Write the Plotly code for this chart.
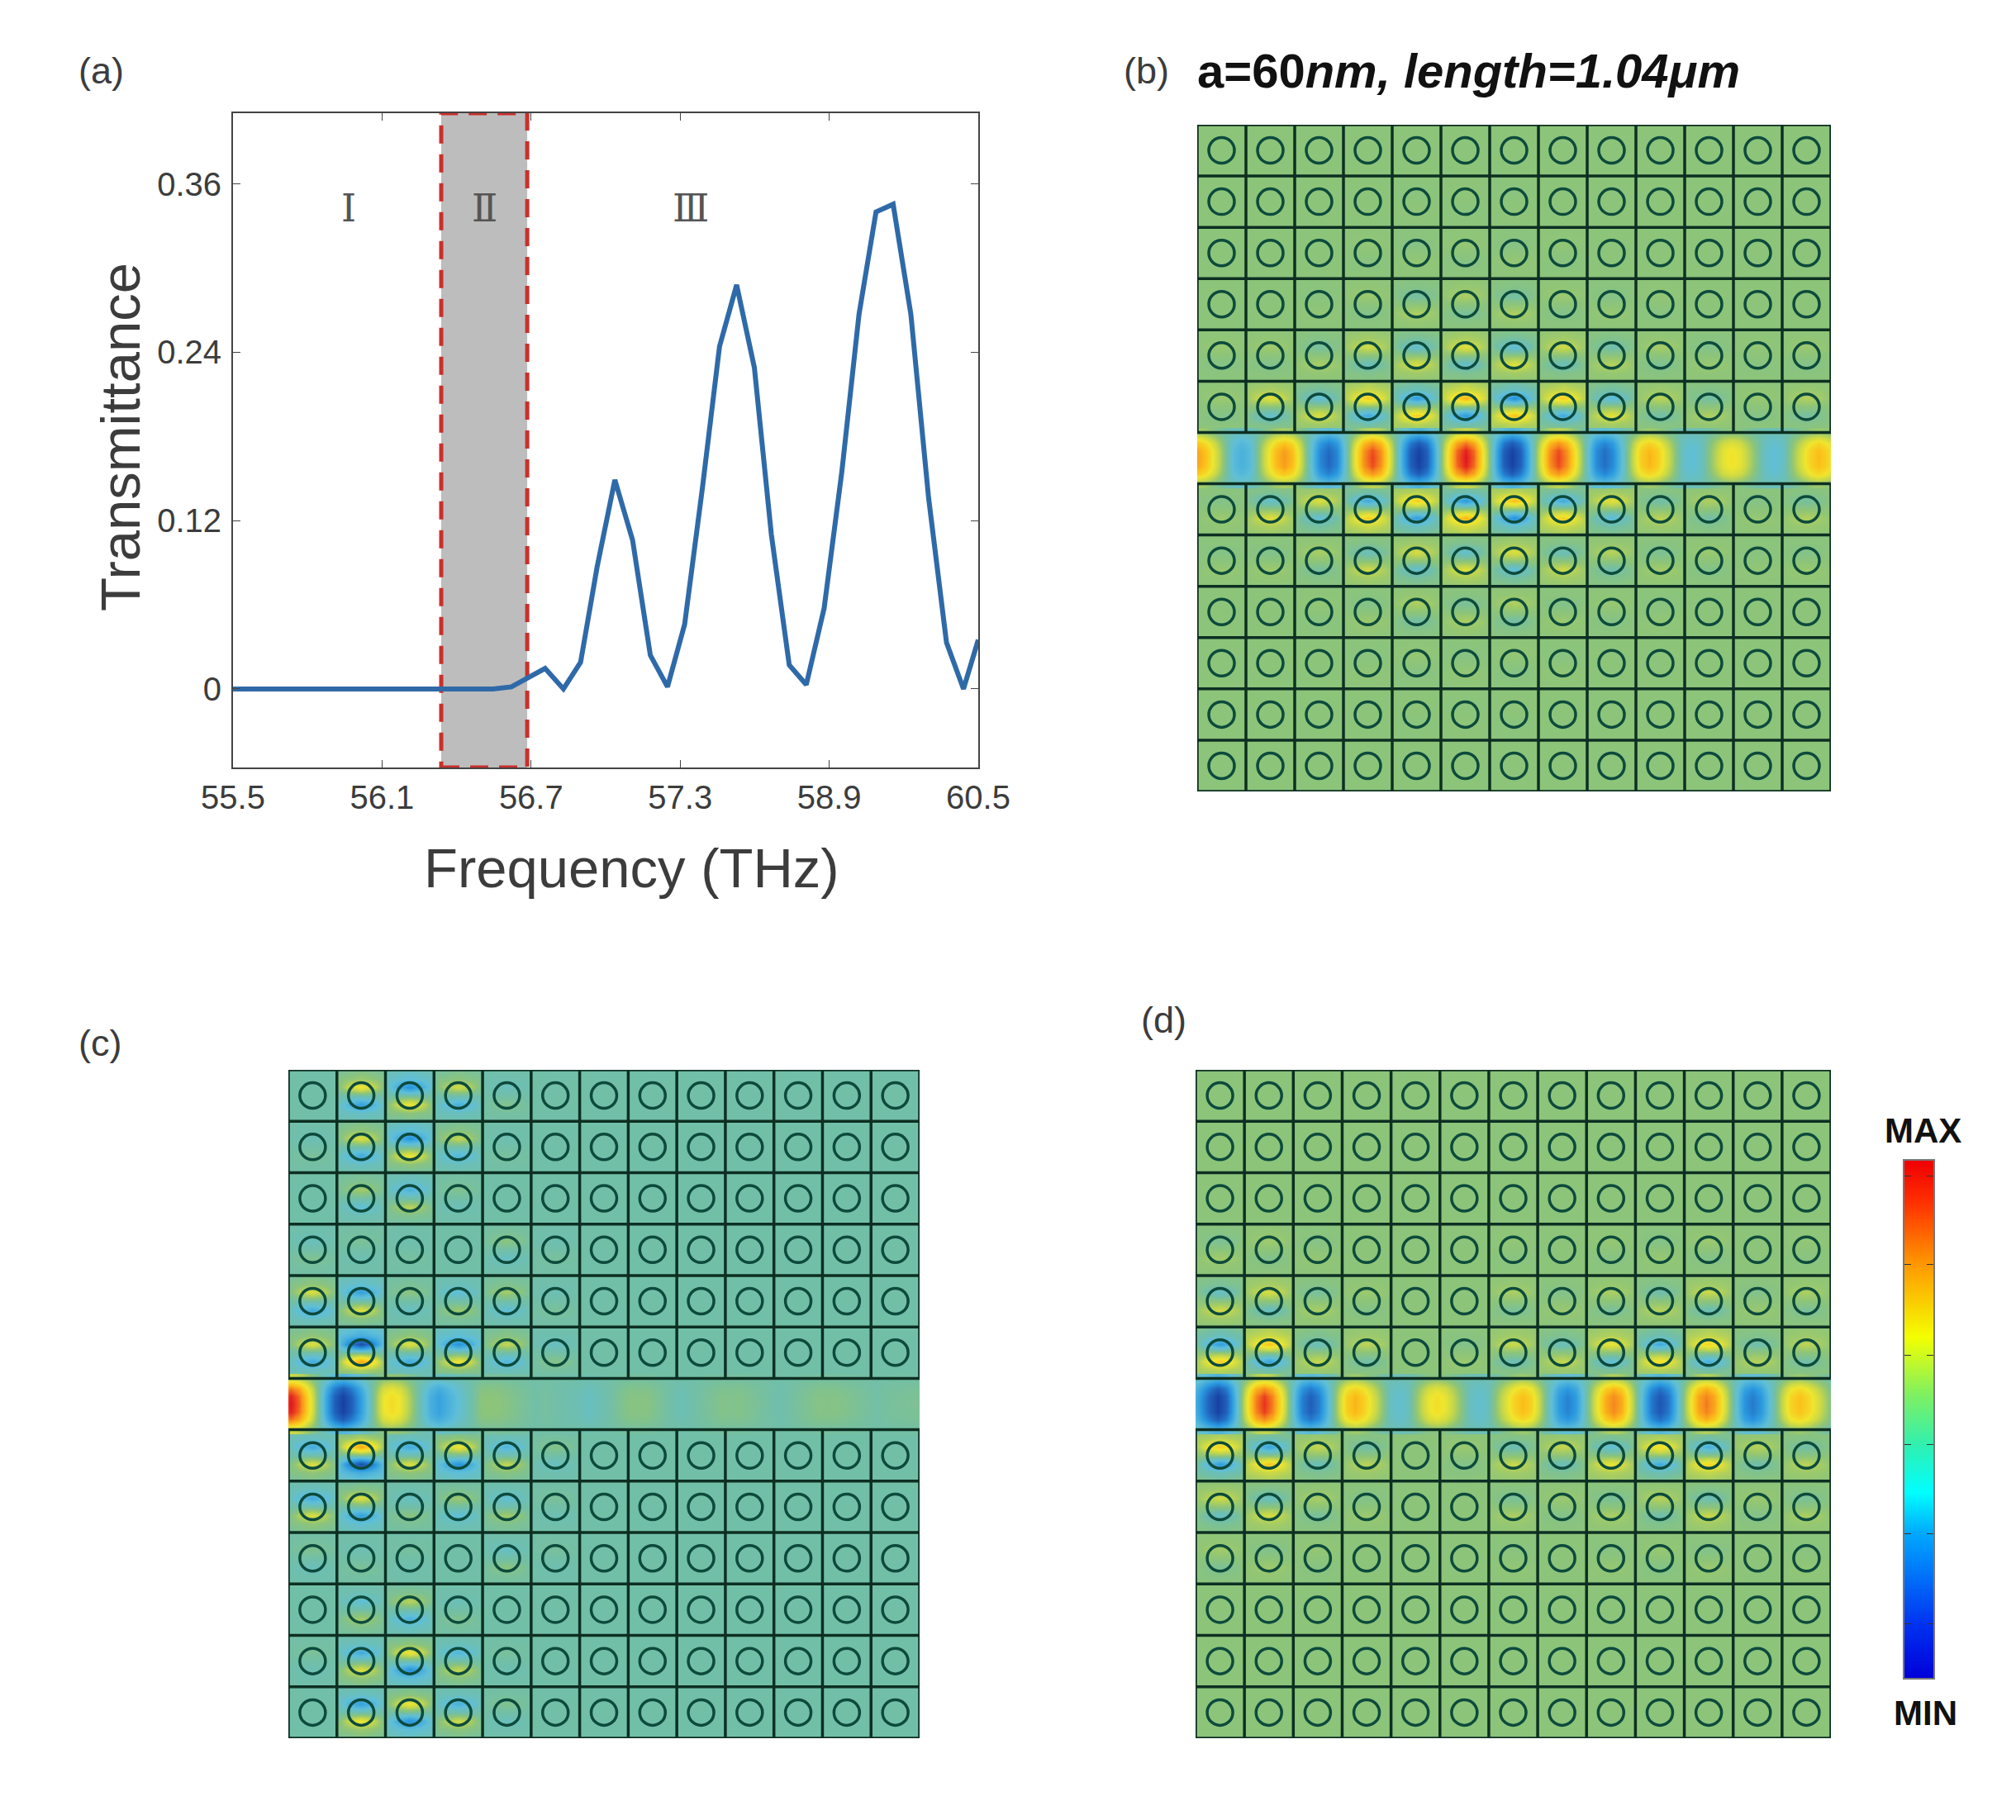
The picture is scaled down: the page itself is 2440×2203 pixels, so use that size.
import plotly.graph_objects as go

W, H = 2440, 2203

# panel (a): transmittance curve, x given as position along the (unevenly labelled) axis
tick_pos = [0, 1, 2, 3, 4, 5]
tick_labels = ["55.5", "56.1", "56.7", "57.3", "58.9", "60.5"]
y_ticks = [0, 0.12, 0.24, 0.36]
y_labels = ["0", "0.12", "0.24", "0.36"]
freq_pos = [0, 1.745, 1.868, 1.979, 2.094, 2.217, 2.332, 2.443, 2.562, 2.681, 2.80, 2.915, 3.03,
            3.149, 3.264, 3.379, 3.498, 3.612, 3.732, 3.846, 3.966, 4.085, 4.2, 4.314, 4.429,
            4.548, 4.667, 4.787, 4.901, 5]
transmit = [0, 0, 0.0015, 0.008, 0.0146, 0, 0.019, 0.087, 0.149, 0.106, 0.024, 0.0015, 0.046,
            0.143, 0.244, 0.288, 0.229, 0.11, 0.017, 0.003, 0.0575, 0.155, 0.267, 0.34, 0.3455,
            0.267, 0.136, 0.033, 0, 0.035]
band2 = [1.397, 1.974]
regions = ["Ⅰ", "Ⅱ", "Ⅲ"]
region_x = [0.776, 1.69, 3.07]

# waveguide field: lobe positions (in cells) and signed amplitudes
b_lobe_x = [0, 0.91, 1.78, 2.69, 3.6, 4.55, 5.5, 6.46, 7.4, 8.36, 9.27, 10.14, 10.96, 11.83, 12.74, 13.6]
b_lobe_a = [0.62, -0.35, 0.65, -0.75, 0.88, -1, 1, -1, 0.88, -0.72, 0.55, -0.25, 0.33, -0.25, 0.52, -0.2]
c_lobe_x = [0.05, 1.13, 2.13, 3.1, 4.15, 5.1, 6.2, 7.2, 8.1, 9.1, 10.1, 11.1, 12.1, 13.1]
c_lobe_a = [1, -1, 0.36, -0.45, 0.0, -0.1, -0.18, -0.02, -0.14, -0.04, -0.12, -0.03, -0.1, -0.07]
d_lobe_x = [-0.5, 0.46, 1.4, 2.35, 3.26, 4.16, 4.94, 5.8, 6.7, 7.6, 8.56, 9.5, 10.45, 11.4, 12.35, 13.3]
d_lobe_a = [0.2, -1, 0.92, -0.8, 0.55, -0.22, 0.35, -0.22, 0.52, -0.62, 0.72, -0.85, 0.75, -0.65, 0.5, -0.2]
lobe_shoulder = [-0.17, 0, 0.17]
lobe_shape = [0.8, 1, 0.8]
wg_y = [6.01, 6.2, 6.35, 6.5, 6.65, 6.8, 6.99]
wg_profile = [0.25, 0.78, 0.97, 1, 0.97, 0.78, 0.25]

# field strength of each hole, rows going outwards from the waveguide
b_rows = [[0.05, 0.3, -0.3, 0.55, -0.6, 0.7, -0.7, 0.55, -0.35, 0.15, -0.12, 0.04, 0.12],
          [0.04, 0.06, -0.1, 0.22, -0.28, 0.3, -0.32, 0.22, -0.15, 0.08, -0.05, 0.02, 0.05],
          [0, 0, -0.02, 0.05, -0.12, 0.1, -0.12, 0.05, -0.04, 0.02, 0, 0, 0],
          [0, 0, 0, 0.02, -0.03, 0.03, -0.03, 0.02, 0, 0, 0, 0, 0],
          [0, 0, 0, 0, -0.01, 0.01, -0.01, 0, 0, 0, 0, 0, 0],
          [0, 0, 0, 0, 0, 0, 0, 0, 0, 0, 0, 0, 0]]
c_rows = [[0.4, -1, 0.4, -0.55, 0.3, -0.1, 0, 0, 0, 0, 0, 0, 0],
          [0.4, -0.45, 0.12, -0.2, 0.2, -0.05, 0, 0, 0, 0, 0, 0, 0],
          [-0.08, 0.05, -0.03, 0, 0.12, -0.04, 0, 0, 0, 0, 0, 0, 0],
          [0, 0.2, -0.3, 0.07, 0, 0, 0, 0, 0, 0, 0, 0, 0],
          [-0.05, 0.4, -0.55, 0.3, -0.04, 0, 0, 0, 0, 0, 0, 0, 0],
          [0, 0.5, -0.55, 0.35, -0.08, 0, 0, 0, 0, 0, 0, 0, 0]]
d_rows = [[-0.6, 0.6, -0.2, 0.15, 0, -0.05, 0.2, -0.2, 0.35, -0.5, 0.5, -0.15, 0.15],
          [-0.25, 0.25, -0.1, 0.05, 0, 0, 0.1, -0.05, 0.1, -0.15, 0.2, -0.05, 0.1],
          [-0.08, 0.06, -0.03, 0, 0, 0, 0.02, 0, 0.03, -0.04, 0.05, 0, 0.02],
          [0, 0, 0, 0, 0, 0, 0, 0, 0, 0, 0, 0, 0],
          [0, 0, 0, 0, 0, 0, 0, 0, 0, 0, 0, 0, 0],
          [0, 0, 0, 0, 0, 0, 0, 0, 0, 0, 0, 0, 0]]

# how a hole's strength spreads over its unit cell (top of cell first)
cell_x = [0.02, 0.28, 0.5, 0.72, 0.98]
cell_y = [0.98, 0.83, 0.67, 0.5, 0.33, 0.17, 0.02]
cell_w = [[0.06, 0.1, 0.14, 0.1, 0.06],
          [0.15, 0.22, 0.28, 0.22, 0.15],
          [0.12, 0.55, 0.8, 0.55, 0.12],
          [0, 0, 0, 0, 0],
          [-0.1, -0.5, -0.72, -0.5, -0.1],
          [-0.12, -0.15, -0.2, -0.15, -0.12],
          [-0.04, -0.05, -0.07, -0.05, -0.04]]

field_scale = [[0, "#17409f"], [0.125, "#2166bf"], [0.25, "#2b9ae0"], [0.375, "#5fbfd8"],
               [0.45, "#72bfa8"], [0.5, "#8cc47a"], [0.575, "#c8d848"], [0.65, "#f0e62e"],
               [0.75, "#fbc01a"], [0.85, "#f68c1e"], [0.95, "#ea3a1e"], [1, "#e0161e"]]
jet_scale = [[0, "#0000d8"], [0.1, "#0030f0"], [0.28, "#00a8ff"], [0.36, "#00ffff"], [0.45, "#30f0b0"],
             [0.55, "#80f060"], [0.66, "#f4ff00"], [0.8, "#ff9800"], [0.92, "#ff3000"], [1, "#f00000"]]
bar_vals = [0, 0.1, 0.28, 0.36, 0.45, 0.55, 0.66, 0.8, 0.92, 1]
bar_ticks = [0.105, 0.279, 0.451, 0.624, 0.799, 0.971]

LINE = "#0d2f22"
HOLE = "#0d4a3c"
TXT = "#3c3c3c"
FONT = "Liberation Sans"

# pixel boxes of the panels: left, right, top, bottom
box_a = (282, 1184, 137, 929)
box_b = (1449, 2216, 151, 958)
box_c = (349, 1113, 1295, 2104)
box_d = (1447, 2216, 1295, 2104)
box_bar = (2305, 2340, 1405, 2031)


def xdom(box):
    return [box[0] / W, box[1] / W]


def ydom(box):
    return [1 - box[3] / H, 1 - box[2] / H]


def bulk(rows, base, upper):
    xs = [c + f for c in range(13) for f in cell_x]
    ys, zs = [], []
    for r, row in enumerate(rows):
        for j, fy in enumerate(cell_y):
            y = 7 + r + fy if upper else 5 - r + (1 - fy)
            line = [base + row[c] * w for c in range(13) for w in cell_w[j]]
            ys.append(y)
            zs.append(line)
    order = sorted(range(len(ys)), key=lambda i: ys[i])
    return xs, [ys[i] for i in order], [zs[i] for i in order]


def add_panel(fig, n, rows, lobe_x, lobe_a, base, wg_base):
    ax = dict(xaxis=f"x{n}", yaxis=f"y{n}")
    style = dict(colorscale=field_scale, zmin=-1, zmax=1, zsmooth="best", showscale=False, hoverinfo="skip")
    for upper in (True, False):
        xs, ys, zs = bulk(rows, base, upper)
        fig.add_trace(go.Heatmap(x=xs, y=ys, z=zs, **style, **ax))
    wx = [x + d for x in lobe_x for d in lobe_shoulder]
    wa = [a * s for a in lobe_a for s in lobe_shape]
    wz = [[wg_base + (a - wg_base) * p for a in wa] for p in wg_profile]
    fig.add_trace(go.Heatmap(x=wx, y=wg_y, z=wz, **style, **ax))

    # unit cell borders, none across the waveguide
    gx, gy = [], []
    for k in range(14):
        gx += [0, 13, None]
        gy += [k, k, None]
        gx += [k, k, None, k, k, None]
        gy += [0, 6, None, 7, 13, None]
    fig.add_trace(go.Scatter(x=gx, y=gy, mode="lines", line=dict(color=LINE, width=3.5),
                             hoverinfo="skip", showlegend=False, **ax))
    hx = [c + 0.5 for r in range(13) if r != 6 for c in range(13)]
    hy = [r + 0.5 for r in range(13) if r != 6 for c in range(13)]
    fig.add_trace(go.Scatter(x=hx, y=hy, mode="markers", hoverinfo="skip", showlegend=False,
                             marker=dict(symbol="circle-open", size=31, color=HOLE,
                                         line=dict(color=HOLE, width=3.5)), **ax))


fig = go.Figure()

fig.add_trace(go.Scatter(x=freq_pos, y=transmit, mode="lines", line=dict(color="#2f6aa8", width=6),
                         showlegend=False, xaxis="x", yaxis="y"))
add_panel(fig, 2, b_rows, b_lobe_x, b_lobe_a, 0, -0.12)
add_panel(fig, 3, c_rows, c_lobe_x, c_lobe_a, -0.1, -0.1)
add_panel(fig, 4, d_rows, d_lobe_x, d_lobe_a, 0, -0.12)
fig.add_trace(go.Heatmap(x=[0, 1], y=bar_vals, z=[[v, v] for v in bar_vals], colorscale=jet_scale,
                         zmin=0, zmax=1, zsmooth="best", showscale=False, hoverinfo="skip",
                         xaxis="x5", yaxis="y5"))

field_axis = dict(range=[0, 13], showgrid=False, zeroline=False, showticklabels=False, ticks="", automargin=False)

annots = []


def label(text, px, py, size, anchor="left", color=TXT, angle=0):
    annots.append(dict(text=text, x=px / W, y=1 - py / H, xref="paper", yref="paper", showarrow=False,
                       xanchor=anchor, yanchor="middle", textangle=angle,
                       font=dict(family=FONT, size=size, color=color)))


label("(a)", 93, 86, 45)
label("(b)", 1358, 86, 45)
label("(c)", 93, 1262, 45)
label("(d)", 1379, 1234, 45)
label("<b>a=60<i>nm, length=1.04μm</i></b>", 1447, 86, 58, color="#111111")
label("<b>MAX</b>", 2327, 1368, 42, "center", "#111111")
label("<b>MIN</b>", 2330, 2073, 42, "center", "#111111")
label("Frequency (THz)", 764, 1050, 67, "center")
label("Transmittance", 145, 529, 67, "center", angle=-90)
for t, x in zip(regions, region_x):
    annots.append(dict(text=t, x=x, y=0.3426, xref="x", yref="y", showarrow=False,
                       font=dict(family="DejaVu Serif", size=46, color="#555555")))

fig.update_layout(
    width=W, height=H, margin=dict(l=0, r=0, t=0, b=0), autosize=False,
    paper_bgcolor="white", plot_bgcolor="white", showlegend=False,
    annotations=annots,
    shapes=[dict(type="rect", xref="x", yref="y", x0=band2[0], x1=band2[1], y0=-0.056, y1=0.4104,
                 fillcolor="#bdbdbd", line=dict(color="#c9302c", width=5, dash="22px,13px"), layer="below")],
    xaxis=dict(domain=xdom(box_a), anchor="y", range=[0, 5], tickvals=tick_pos, ticktext=tick_labels,
               ticks="inside", ticklen=9, tickcolor="#444444", showline=True, linecolor="#444444", linewidth=2,
               mirror="ticks", showgrid=False, zeroline=False, ticklabelstandoff=0, automargin=False,
               tickfont=dict(family=FONT, size=40, color=TXT)),
    yaxis=dict(domain=ydom(box_a), anchor="x", range=[-0.056, 0.4104], tickvals=y_ticks, ticktext=y_labels,
               ticks="inside", ticklen=9, tickcolor="#444444", showline=True, linecolor="#444444", linewidth=2,
               mirror="ticks", showgrid=False, zeroline=False, ticklabelstandoff=4, automargin=False,
               tickfont=dict(family=FONT, size=40, color=TXT)),
    xaxis2=dict(domain=xdom(box_b), anchor="y2", **field_axis),
    yaxis2=dict(domain=ydom(box_b), anchor="x2", **field_axis),
    xaxis3=dict(domain=xdom(box_c), anchor="y3", **field_axis),
    yaxis3=dict(domain=ydom(box_c), anchor="x3", **field_axis),
    xaxis4=dict(domain=xdom(box_d), anchor="y4", **field_axis),
    yaxis4=dict(domain=ydom(box_d), anchor="x4", **field_axis),
    xaxis5=dict(domain=xdom(box_bar), anchor="y5", range=[0, 1], showticklabels=False, ticks="", automargin=False,
                showgrid=False, zeroline=False, showline=True, linecolor="#777777", linewidth=2, mirror=True),
    yaxis5=dict(domain=ydom(box_bar), anchor="x5", range=[0, 1], tickvals=bar_ticks, showticklabels=False,
                ticks="inside", ticklen=8, tickcolor="#333333", showgrid=False, zeroline=False, automargin=False,
                showline=True, linecolor="#777777", linewidth=2, mirror="ticks"),
)

fig.write_html("out.html", config={"displayModeBar": False}, post_script="document.body.style.margin='0';")
